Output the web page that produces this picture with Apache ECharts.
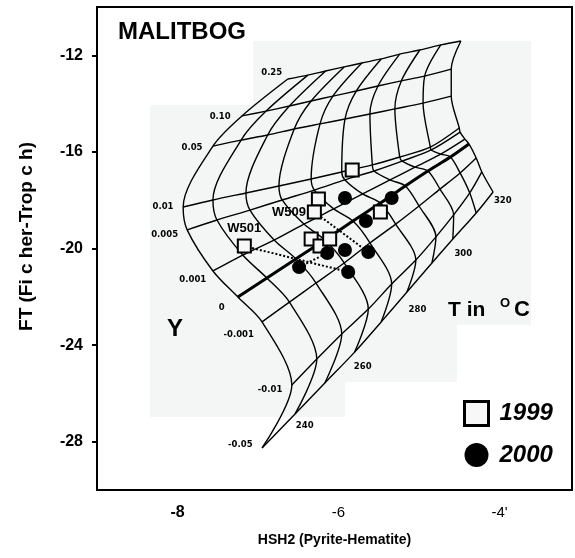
<!DOCTYPE html>
<html><head><meta charset="utf-8">
<script src="https://cdn.jsdelivr.net/npm/echarts/dist/echarts.min.js"></script>
<style>html,body{margin:0;padding:0;background:#fff}#c{width:575px;height:558px}</style>
</head><body><div id="c"></div>
<script>
// ---- axis ticks ----
const xTicks = [-8, -6, -4];
const yTicks = [-12, -16, -20, -24, -28];

// ---- grid: Y isopleths (value labels) and T isotherms ----
const yValues = ['0.25', '0.10', '0.05', '0.01', '0.005', '0.001', '0', '-0.001', '-0.01', '-0.05'];
const tValues = [230, 240, 250, 260, 270, 280, 290, 300, 310, 320];

// nodes of each Y line, one node per T (230..320), in [HSH2, FT]
const rowY025 = [[-6.63,-12.98],[-6.38,-12.82],[-6.16,-12.65],[-5.93,-12.48],[-5.71,-12.32],[-5.47,-12.15],[-5.24,-11.95],[-4.99,-11.78],[-4.73,-11.57],[-4.48,-11.41]];
const rowY010 = [[-7.20,-14.51],[-6.90,-14.31],[-6.61,-14.10],[-6.34,-13.89],[-6.07,-13.69],[-5.78,-13.48],[-5.51,-13.27],[-5.22,-13.06],[-4.93,-12.86],[-4.60,-12.57]];
const rowY005 = [[-7.56,-15.76],[-7.21,-15.51],[-6.88,-15.30],[-6.55,-15.05],[-6.23,-14.84],[-5.92,-14.64],[-5.61,-14.43],[-5.30,-14.22],[-4.95,-13.98],[-4.60,-13.69]];
const rowY001 = [[-7.93,-18.28],[-7.56,-17.99],[-7.15,-17.70],[-6.74,-17.41],[-6.34,-17.12],[-5.96,-16.83],[-5.58,-16.54],[-5.24,-16.21],[-4.86,-15.80],[-4.50,-15.01]];
const rowY0005 = [[-7.88,-19.23],[-7.51,-18.82],[-7.10,-18.41],[-6.70,-17.99],[-6.30,-17.58],[-5.92,-17.16],[-5.56,-16.79],[-5.21,-16.38],[-4.85,-15.92],[-4.49,-15.18]];
const rowY0001 = [[-7.56,-20.93],[-7.19,-20.27],[-6.80,-19.65],[-6.43,-18.99],[-6.06,-18.36],[-5.70,-17.74],[-5.36,-17.16],[-5.05,-16.63],[-4.73,-16.09],[-4.43,-15.47]];
const rowY0 = [[-7.25,-22.01],[-6.89,-21.22],[-6.53,-20.43],[-6.17,-19.65],[-5.82,-18.86],[-5.48,-18.12],[-5.17,-17.41],[-4.89,-16.79],[-4.61,-16.21],[-4.38,-15.67]];
const rowYm0001 = [[-6.95,-23.04],[-6.61,-22.22],[-6.28,-21.43],[-5.93,-20.60],[-5.61,-19.77],[-5.29,-18.99],[-5.00,-18.24],[-4.74,-17.54],[-4.49,-16.87],[-4.29,-16.25]];
const rowYm001 = [[-6.58,-25.65],[-6.27,-24.58],[-5.96,-23.54],[-5.63,-22.51],[-5.34,-21.47],[-5.04,-20.48],[-4.79,-19.52],[-4.57,-18.61],[-4.37,-17.70],[-4.22,-16.83]];
const rowYm005 = [[-6.95,-28.26],[-6.54,-26.85],[-6.17,-25.57],[-5.80,-24.29],[-5.47,-23.04],[-5.15,-21.80],[-4.84,-20.60],[-4.58,-19.61],[-4.29,-18.53],[-4.08,-17.66]];
const gridRows = [rowY025, rowY010, rowY005, rowY001, rowY0005, rowY0001, rowY0, rowYm0001, rowYm001, rowYm005];

// label anchor points of the grid annotations
const yLabelAt = [[-6.83,-12.73],[-7.47,-14.55],[-7.82,-15.84],[-8.18,-18.28],[-8.16,-19.44],[-7.81,-21.30],[-7.45,-22.46],[-7.24,-23.58],[-6.85,-25.86],[-7.22,-28.14]];
const tLabelText = ['240', '260', '280', '300', '320'];
const tLabelAt = [[-6.42,-27.35],[-5.70,-24.91],[-5.02,-22.55],[-4.45,-20.23],[-3.96,-18.03]];

// ---- samples ----
const samples1999 = [[-5.83,-16.75],[-6.25,-17.95],[-6.30,-18.49],[-7.17,-19.90],[-6.34,-19.61],[-6.23,-19.90],[-6.11,-19.61],[-5.48,-18.49]];
const wellNames1999 = ['', '', 'W509', 'W501', '', '', '', ''];
const samples2000 = [[-5.92,-17.91],[-5.34,-17.91],[-5.66,-18.86],[-6.14,-20.19],[-5.92,-20.06],[-5.63,-20.15],[-6.49,-20.77],[-5.88,-20.97]];
// dotted links: [from series, index] -> [to series, index]
const links = [[['1999',3],['2000',7]], [['1999',2],['2000',5]], [['2000',6],['2000',3]]];

// faint scanned background patches [x1,y1,x2,y2]
const bgPatches = [[-8.34,-14.06,-5.92,-26.98],[-7.06,-11.41,-3.61,-23.17],[-5.92,-23.17,-4.53,-25.53]];

const FONT = 'Liberation Sans';
const chart = echarts.init(document.getElementById('c'));
const series = [];

series.push({
  type: 'line', data: [], silent: true, z: 0, showSymbol: false,
  markArea: { silent: true, itemStyle: { color: '#f4f6f5' },
    data: bgPatches.map(p => [{ xAxis: p[0], yAxis: p[1] }, { xAxis: p[2], yAxis: p[3] }]) }
});

gridRows.forEach((r, i) => series.push({
  type: 'line', data: r, smooth: 0.3, showSymbol: false, silent: true, z: 2,
  lineStyle: { color: '#000', width: yValues[i] === '0' ? 3 : 1.4 }
}));
tValues.forEach((t, j) => series.push({
  type: 'line', data: gridRows.map(r => r[j]), smooth: 0.3, showSymbol: false, silent: true, z: 2,
  lineStyle: { color: '#000', width: 1.4 }
}));

const pts = { '1999': samples1999, '2000': samples2000 };
links.forEach(l => series.push({
  type: 'line', data: [pts[l[0][0]][l[0][1]], pts[l[1][0]][l[1][1]]], showSymbol: false, silent: true, z: 3,
  lineStyle: { color: '#000', width: 2, type: [2, 2] }
}));

series.push({
  type: 'scatter', name: '1999', symbol: 'rect', symbolSize: 13, z: 6,
  itemStyle: { color: '#f6f7f6', borderColor: '#000', borderWidth: 2, opacity: 1 },
  data: samples1999.map((p, i) => {
    const d = { value: p };
    if (wellNames1999[i]) {
      d.label = { show: true, formatter: wellNames1999[i], position: wellNames1999[i] === 'W501' ? 'top' : 'left',
        distance: wellNames1999[i] === 'W501' ? 4 : 1,
        color: '#000', opacity: 1, fontFamily: FONT, fontWeight: 'bold', fontSize: 13 };
    }
    return d;
  })
});
series.push({
  type: 'scatter', name: '2000', symbol: 'circle', symbolSize: 14, z: 6,
  itemStyle: { color: '#000', opacity: 1 }, data: samples2000
});

const smallLabel = { show: true, position: 'inside', formatter: '{b}', color: '#000', opacity: 1, fontFamily: 'DejaVu Sans', fontWeight: 'bold', fontSize: 8.5 };
series.push({
  type: 'scatter', symbolSize: 1, silent: true, z: 4, itemStyle: { color: 'rgba(0,0,0,0)', opacity: 1 },
  label: smallLabel, data: yLabelAt.map((p, i) => ({ value: p, name: yValues[i] }))
});
series.push({
  type: 'scatter', symbolSize: 1, silent: true, z: 4, itemStyle: { color: 'rgba(0,0,0,0)', opacity: 1 },
  label: smallLabel, data: tLabelAt.map((p, i) => ({ value: p, name: tLabelText[i] }))
});

chart.setOption({
  animation: false,
  backgroundColor: '#fff',
  grid: { left: 97, right: 3, top: 7, bottom: 68, show: true, borderColor: '#000', borderWidth: 2, backgroundColor: 'transparent' },
  xAxis: {
    type: 'value', min: -9, max: -3.1,
    name: 'HSH2 (Pyrite-Hematite)', nameLocation: 'middle', nameGap: 43,
    nameTextStyle: { color: '#000', fontFamily: FONT, fontWeight: 'bold', fontSize: 14 },
    axisLine: { show: false }, axisTick: { show: false }, splitLine: { show: false },
    axisLabel: {
      customValues: xTicks, margin: 15, color: '#000', fontFamily: FONT, fontSize: 15,
      formatter: v => v === -8 ? '{b|-8}' : (v === -4 ? "{n|-4'}" : '{n|' + v + '}'),
      rich: { b: { fontWeight: 'bold', fontSize: 16, fontFamily: FONT, color: '#000' }, n: { fontSize: 15, fontFamily: FONT, color: '#000' } }
    }
  },
  yAxis: {
    type: 'value', min: -30, max: -10,
    name: 'FT (Fi c her-Trop c h)', nameLocation: 'middle', nameGap: 61,
    nameTextStyle: { color: '#000', fontFamily: FONT, fontWeight: 'bold', fontSize: 19, padding: [0, 0, 0, 24] },
    axisLine: { show: false }, splitLine: { show: false },
    axisTick: { show: true, customValues: yTicks, length: 5, lineStyle: { color: '#000', width: 2 } },
    axisLabel: { customValues: yTicks, margin: 14, color: '#000', fontFamily: FONT, fontWeight: 'bold', fontSize: 16 }
  },
  legend: {
    data: [{ name: '1999', icon: 'rect', itemStyle: { borderWidth: 3 } }, { name: '2000', icon: 'circle' }],
    orient: 'vertical', left: 463, top: 400, padding: 0, itemWidth: 24, itemHeight: 24, itemGap: 16, selectedMode: false,
    textStyle: { color: '#000', fontFamily: FONT, fontSize: 24, fontWeight: 'bold', fontStyle: 'italic', padding: [0, 0, 0, 6] }
  },
  graphic: [
    { type: 'text', z: 10, style: { text: 'MALITBOG', x: 118, y: 32, fill: '#000', fontFamily: FONT, fontWeight: 'bold', fontSize: 24, verticalAlign: 'middle' } },
    { type: 'text', z: 10, style: { text: 'Y', x: 175, y: 329, fill: '#000', fontFamily: FONT, fontWeight: 'bold', fontSize: 24, align: 'center', verticalAlign: 'middle' } },
    { type: 'text', z: 10, style: { text: 'T in', x: 448, y: 310, fill: '#000', fontFamily: FONT, fontWeight: 'bold', fontSize: 21, verticalAlign: 'middle' } },
    { type: 'text', z: 10, style: { text: 'O', x: 500, y: 303, fill: '#000', fontFamily: FONT, fontWeight: 'bold', fontSize: 13, verticalAlign: 'middle' } },
    { type: 'text', z: 10, style: { text: 'C', x: 514, y: 310, fill: '#000', fontFamily: FONT, fontWeight: 'bold', fontSize: 22, verticalAlign: 'middle' } }
  ],
  series: series
});
</script>
</body></html>
